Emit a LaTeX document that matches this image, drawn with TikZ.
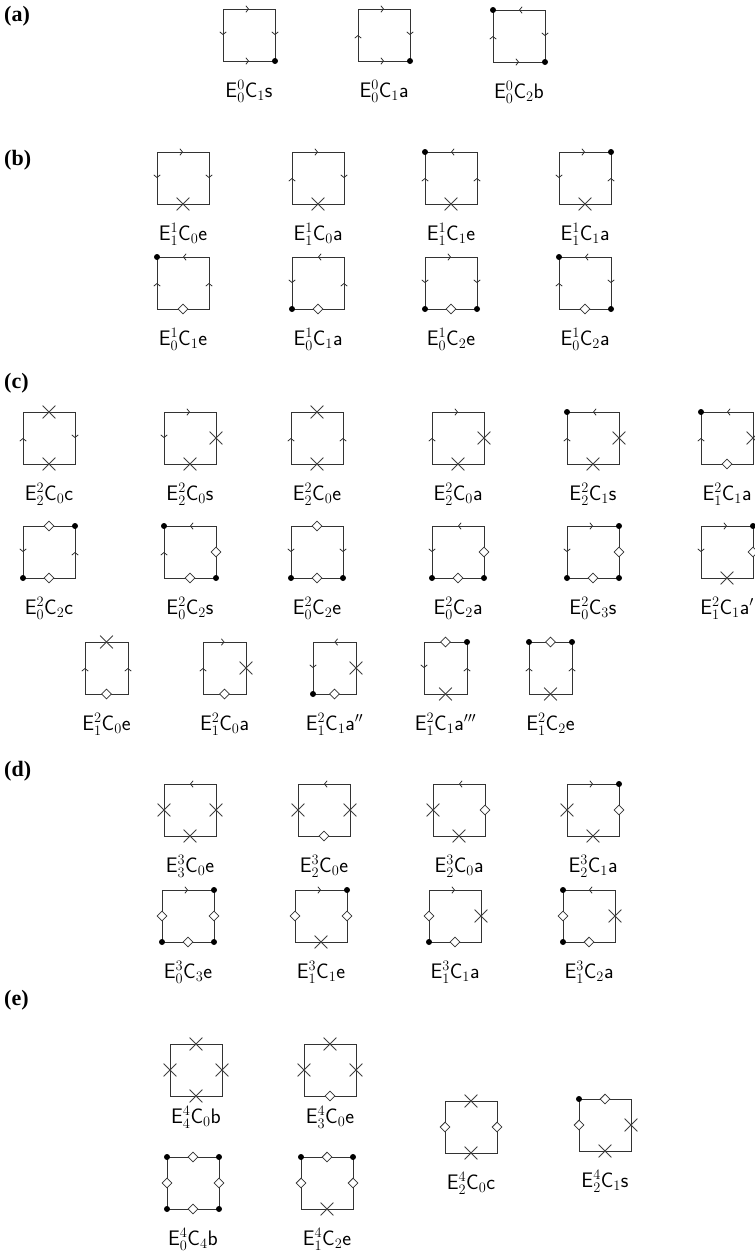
\documentclass[tikz,border=0pt]{standalone}
\usepackage{fontspec}
\newfontfamily\panelfont{Liberation Serif}
\usetikzlibrary{arrows.meta,decorations.markings,shapes.misc,shapes.geometric,calc}
\tikzset{
 ln/.style={draw=black!80,line width=0.9pt},
 arr/.style={decoration={markings,mark=at position 0.5 with {\arrow{Straight Barb[length=2.6pt,width=6.5pt,line width=0.8pt]}}},postaction={decorate}},
 xm/.style={cross out,draw=black!75,line width=0.8pt,minimum size=12pt,inner sep=0pt},
 dm/.style={diamond,draw=black!80,fill=white,line width=0.8pt,minimum size=10pt,inner sep=0pt},
 dotc/.style={fill=black,draw=none},
 lab/.style={font=\fontsize{21}{25}\selectfont,anchor=base,inner sep=0pt},
 pl/.style={font=\panelfont\bfseries\fontsize{22}{26}\selectfont,anchor=west,inner sep=0pt},
}
\newcommand\edge[3]{%
 \if#1R\draw[ln,arr] (#2)--(#3);\fi
 \if#1D\draw[ln,arr] (#2)--(#3);\fi
 \if#1L\draw[ln,arr] (#3)--(#2);\fi
 \if#1U\draw[ln,arr] (#3)--(#2);\fi
 \if#1X\draw[ln] (#2)--(#3) node[xm,midway] (#2#3){};\fi
 \if#1O\draw[ln] (#2)--(#3) node[dm,midway] (#2#3){};\fi
}
\newcommand\sq[8]{%
 \coordinate (#1-tl) at (#2,#3);
 \coordinate (#1-tr) at ({#2+#4},#3);
 \coordinate (#1-br) at ({#2+#4},{#3+52});
 \coordinate (#1-bl) at (#2,{#3+52});
 \draw[ln] (#1-tl) rectangle (#1-br);
 \edge{#5}{#1-tl}{#1-tr}%
 \edge{#6}{#1-tr}{#1-br}%
 \edge{#7}{#1-bl}{#1-br}%
 \edge{#8}{#1-tl}{#1-bl}%
}
\newcommand\dt[2]{\foreach \cc in {#2} {\fill[dotc] (#1-\cc) circle (3pt);}}
\newcommand\EC[4]{$\mathsf{E}^{#1}_{#2}\mathsf{C}_{#3}\mathsf{#4}$}
\newcommand\lab[3]{\node[lab] (#1-l) at ($(#1-bl)!0.5!(#1-br)+(0,#3)$) {#2};}
\begin{document}
\begin{tikzpicture}[x=1pt,y=-1pt]
\useasboundingbox (0,0) rectangle (755,1251);
% panel labels
\node[pl] (pa) at (4,16) {(a)};
\node[pl] (pb) at (4,160) {(b)};
\node[pl] (pc) at (4,383) {(c)};
\node[pl] (pd) at (4,771) {(d)};
\node[pl] (pe) at (4,1000) {(e)};
% (a)
\sq{a1}{223}{9}{52}{R}{D}{R}{D} \dt{a1}{br} \lab{a1}{\EC{0}{0}{1}{s}}{36}
\sq{a2}{358}{9}{52}{R}{D}{R}{U} \dt{a2}{br} \lab{a2}{\EC{0}{0}{1}{a}}{36}
\sq{a3}{493}{10}{52}{L}{D}{R}{U} \dt{a3}{tl,br} \lab{a3}{\EC{0}{0}{2}{b}}{36}
% (b)
\sq{b1}{157}{152}{52}{R}{D}{X}{D} \lab{b1}{\EC{1}{1}{0}{e}}{36}
\sq{b2}{292}{152}{52}{R}{D}{X}{U} \lab{b2}{\EC{1}{1}{0}{a}}{36}
\sq{b3}{425}{152}{52}{L}{U}{X}{U} \dt{b3}{tl} \lab{b3}{\EC{1}{1}{1}{e}}{36}
\sq{b4}{559}{152}{52}{R}{U}{X}{D} \dt{b4}{tr} \lab{b4}{\EC{1}{1}{1}{a}}{36}
\sq{b5}{157}{257}{52}{L}{U}{O}{U} \dt{b5}{tl} \lab{b5}{\EC{1}{0}{1}{e}}{36}
\sq{b6}{292}{257}{52}{L}{U}{O}{D} \dt{b6}{bl} \lab{b6}{\EC{1}{0}{1}{a}}{36}
\sq{b7}{425}{257}{52}{R}{D}{O}{D} \dt{b7}{bl,br} \lab{b7}{\EC{1}{0}{2}{e}}{36}
\sq{b8}{559}{257}{52}{L}{D}{O}{U} \dt{b8}{tl,br} \lab{b8}{\EC{1}{0}{2}{a}}{36}
% (c) row 1
\sq{c1}{23}{412}{52}{X}{D}{X}{U} \lab{c1}{\EC{2}{2}{0}{c}}{36}
\sq{c2}{164}{412}{52}{R}{X}{X}{D} \lab{c2}{\EC{2}{2}{0}{s}}{36}
\sq{c3}{291}{412}{52}{X}{U}{X}{U} \lab{c3}{\EC{2}{2}{0}{e}}{36}
\sq{c4}{432}{412}{52}{R}{X}{X}{U} \lab{c4}{\EC{2}{2}{0}{a}}{36}
\sq{c5}{567}{412}{52}{L}{X}{X}{U} \dt{c5}{tl} \lab{c5}{\EC{2}{2}{1}{s}}{36}
\sq{c6}{701}{412}{52}{L}{X}{O}{U} \dt{c6}{tl} \lab{c6}{\EC{2}{1}{1}{a}}{36}
% (c) row 2
\sq{c7}{23}{526}{52}{O}{U}{O}{D} \dt{c7}{tr,bl} \lab{c7}{\EC{2}{0}{2}{c}}{36}
\sq{c8}{164}{526}{52}{L}{O}{O}{U} \dt{c8}{tl,br} \lab{c8}{\EC{2}{0}{2}{s}}{36}
\sq{c9}{291}{526}{52}{O}{D}{O}{D} \dt{c9}{bl,br} \lab{c9}{\EC{2}{0}{2}{e}}{36}
\sq{c10}{432}{526}{52}{L}{O}{O}{D} \dt{c10}{bl,br} \lab{c10}{\EC{2}{0}{2}{a}}{36}
\sq{c11}{567}{526}{52}{R}{O}{O}{D} \dt{c11}{tr,bl,br} \lab{c11}{\EC{2}{0}{3}{s}}{36}
\sq{c12}{701}{526}{52}{R}{O}{X}{D} \dt{c12}{tr} \lab{c12}{\EC{2}{1}{1}{a}$'$}{36}
% (c) row 3
\sq{c13}{85}{642}{43}{X}{U}{O}{U} \lab{c13}{\EC{2}{1}{0}{e}}{36}
\sq{c14}{203}{642}{43}{R}{X}{O}{U} \lab{c14}{\EC{2}{1}{0}{a}}{36}
\sq{c15}{313}{642}{43}{L}{X}{O}{D} \dt{c15}{bl} \lab{c15}{\EC{2}{1}{1}{a}$''$}{36}
\sq{c16}{424}{642}{43}{O}{U}{X}{D} \dt{c16}{tr} \lab{c16}{\EC{2}{1}{1}{a}$'''$}{36}
\sq{c17}{529}{642}{43}{O}{U}{X}{U} \dt{c17}{tl,tr} \lab{c17}{\EC{2}{1}{2}{e}}{36}
% (d) row 1
\sq{d1}{164}{784}{52}{L}{X}{X}{X} \lab{d1}{\EC{3}{3}{0}{e}}{36}
\sq{d2}{298}{784}{52}{L}{X}{O}{X} \lab{d2}{\EC{3}{2}{0}{e}}{36}
\sq{d3}{433}{784}{52}{L}{O}{X}{X} \lab{d3}{\EC{3}{2}{0}{a}}{36}
\sq{d4}{567}{784}{52}{R}{O}{X}{X} \dt{d4}{tr} \lab{d4}{\EC{3}{2}{1}{a}}{36}
% (d) row 2
\sq{d5}{162}{890}{52}{R}{O}{O}{O} \dt{d5}{tr,bl,br} \lab{d5}{\EC{3}{0}{3}{e}}{36}
\sq{d6}{295}{890}{52}{R}{O}{X}{O} \dt{d6}{tr} \lab{d6}{\EC{3}{1}{1}{e}}{36}
\sq{d7}{429}{890}{52}{R}{X}{O}{O} \dt{d7}{bl} \lab{d7}{\EC{3}{1}{1}{a}}{36}
\sq{d8}{563}{890}{52}{L}{X}{O}{O} \dt{d8}{tl,bl} \lab{d8}{\EC{3}{1}{2}{a}}{36}
% (e)
\sq{e1}{170}{1044}{52}{X}{X}{X}{X} \lab{e1}{\EC{4}{4}{0}{b}}{27}
\sq{e2}{304}{1044}{52}{X}{X}{O}{X} \lab{e2}{\EC{4}{3}{0}{e}}{27}
\sq{e3}{167}{1157}{52}{O}{O}{O}{O} \dt{e3}{tl,tr,bl,br} \lab{e3}{\EC{4}{0}{4}{b}}{36}
\sq{e4}{301}{1157}{52}{O}{O}{X}{O} \dt{e4}{tl,tr} \lab{e4}{\EC{4}{1}{2}{e}}{36}
\sq{e5}{445}{1101}{52}{X}{O}{X}{O} \lab{e5}{\EC{4}{2}{0}{c}}{36}
\sq{e6}{579}{1099}{52}{O}{X}{X}{O} \dt{e6}{tl} \lab{e6}{\EC{4}{2}{1}{s}}{36}
\end{tikzpicture}
\end{document}
